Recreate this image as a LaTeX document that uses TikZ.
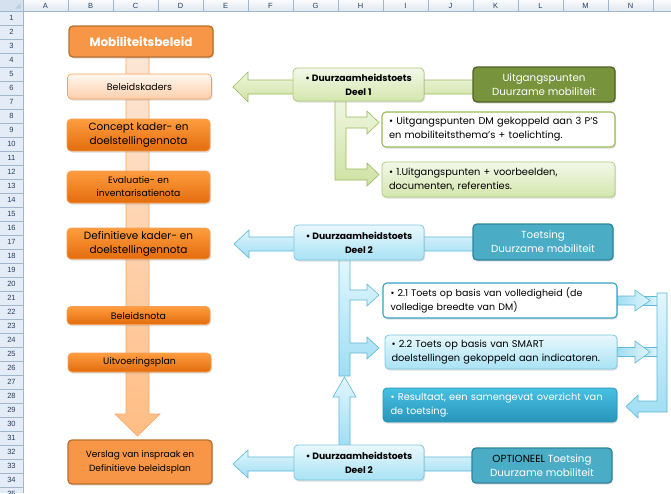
\documentclass[tikz,border=0pt]{standalone}
\usepackage{fontspec}
\setmainfont{Poppins}
\newfontfamily\hdrfont{Liberation Sans}
\usetikzlibrary{shadows}
\definecolor{hdrline}{HTML}{9EB6CE}
\definecolor{hdrtop}{HTML}{F9FBFD}
\definecolor{hdrbot}{HTML}{E1E8F1}
\definecolor{rowfill}{HTML}{E4ECF7}
\definecolor{hdrtext}{HTML}{27405E}
\definecolor{orDark}{HTML}{F79646}
\definecolor{orDarkLine}{HTML}{B7712F}
\definecolor{orTop}{HTML}{FF9D40}
\definecolor{orBot}{HTML}{E26C0C}
\definecolor{orLine}{HTML}{F7A055}
\definecolor{paleTop}{HTML}{FFF7F0}
\definecolor{paleBot}{HTML}{FCCFAB}
\definecolor{paleLine}{HTML}{F5A05A}
\definecolor{peachTop}{HTML}{FDE6D5}
\definecolor{peachBot}{HTML}{FFBD84}
\definecolor{peachLine}{HTML}{F8A862}
\definecolor{olive}{HTML}{77933C}
\definecolor{oliveLine}{HTML}{4F6228}
\definecolor{lgTop}{HTML}{F3F8E9}
\definecolor{lgBot}{HTML}{D3E6AC}
\definecolor{lgLine}{HTML}{B0CB7E}
\definecolor{gArrTop}{HTML}{EFF6E0}
\definecolor{gArrBot}{HTML}{CDE2A2}
\definecolor{gArrLine}{HTML}{9BBB59}
\definecolor{teal}{HTML}{4BACC6}
\definecolor{tealLine}{HTML}{31859C}
\definecolor{lbTop}{HTML}{E9F8FD}
\definecolor{lbBot}{HTML}{A8E2F4}
\definecolor{lbLine}{HTML}{7CC9E2}
\definecolor{bArrTop}{HTML}{E2F6FD}
\definecolor{bArrBot}{HTML}{9FDDF2}
\definecolor{bArrLine}{HTML}{5DB9D8}
\definecolor{resTop}{HTML}{47C0E1}
\definecolor{resBot}{HTML}{2895BB}
\definecolor{wbLine}{HTML}{35A2C4}
\tikzset{
  hdr/.style={font=\hdrfont\fontsize{7.5}{8}\selectfont, text=hdrtext, inner sep=0},
  shad/.style={drop shadow={opacity=0.25,shadow xshift=1pt,shadow yshift=-1.5pt}},
  box/.style={rounded corners=4pt, inner sep=0, align=center, text=black},
  darkor/.style={box, shad, fill=orDark, draw=orDarkLine, line width=1.3pt},
  vivid/.style={box, shad, top color=orTop, bottom color=orBot, draw=orLine, line width=0.6pt},
  pale/.style={box, shad, top color=paleTop, bottom color=paleBot, draw=paleLine, line width=0.6pt},
  olivebox/.style={box, shad, fill=olive, draw=oliveLine, line width=1.3pt, text=white},
  lgbox/.style={box, shad, top color=lgTop, bottom color=lgBot, draw=lgLine, line width=0.8pt},
  wgbox/.style={box, shad, fill=white, draw=gArrLine, line width=1.1pt},
  tealbox/.style={box, shad, fill=teal, draw=tealLine, line width=1.3pt, text=white},
  lbbox/.style={box, shad, top color=lbTop, bottom color=lbBot, draw=lbLine, line width=0.8pt},
  wbbox/.style={box, shad, fill=white, draw=wbLine, line width=1.1pt},
  resbox/.style={box, shad, top color=resTop, bottom color=resBot, draw=resBot, line width=0.8pt, text=white},
  garrow/.style={top color=gArrTop, bottom color=gArrBot, draw=gArrLine, line width=0.6pt},
  barrow/.style={top color=bArrTop, bottom color=bArrBot, draw=bArrLine, line width=0.6pt},
  hbarrow/.style={left color=bArrBot, right color=bArrTop, draw=bArrLine, line width=0.6pt},
  parrow/.style={top color=peachTop, bottom color=peachBot, draw=peachLine, line width=0.6pt},
  big/.style={font=\fontsize{10.5}{14}\selectfont},
  mid/.style={font=\fontsize{10.3}{14}\selectfont},
  small/.style={font=\fontsize{9.8}{14}\selectfont},
  deel/.style={font=\bfseries\fontsize{9.2}{14}\selectfont},
  side/.style={align=left, text width=219pt},
}
\begin{document}
\begin{tikzpicture}[x=1pt,y=-1pt]
\useasboundingbox (0,0) rectangle (671,493);
\fill[white] (0,0) rectangle (671,493);
% ---------- spreadsheet headers ----------
\shade[top color=hdrtop, bottom color=hdrbot] (0,0) rectangle (671,11);
\fill[rowfill] (0,11) rectangle (23,493);
\foreach \i in {0,...,14} \draw[hdrline, line width=0.6pt] (23+45*\i,0) -- (23+45*\i,11);
\foreach \r in {1,...,35} \draw[hdrline, line width=0.6pt] (0,11+14*\r) -- (23,11+14*\r);
\draw[hdrline, line width=0.8pt] (0,11) -- (671,11);
\draw[hdrline, line width=0.8pt] (23,0) -- (23,493);
\fill[rowfill!80!hdrline] (0,0) rectangle (23,11);
\fill[hdrline!70!white] (20.5,3) -- (20.5,8.5) -- (15,8.5) -- cycle;
\foreach \c [count=\i from 0] in {A,B,C,D,E,F,G,H,I,J,K,L,M,N}
  \node[hdr] (col\c) at (45.5+45*\i,5.8) {\c};
\foreach \r in {1,...,35}
  \node[hdr] (row\r) at (11.5,4.3+14*\r) {\r};
% ---------- block arrows (behind boxes) ----------
\path[parrow] (126,57) -- (149,57) -- (149,414) -- (160,414) -- (137.5,436) -- (115,414) -- (126,414) -- cycle;
% green
\path[garrow] (474,80) -- (248,80) -- (248,72) -- (233,87) -- (248,102) -- (248,94) -- (474,94) -- cycle;
\path[garrow] (335,100) -- (346,100) -- (346,117) -- (367,117) -- (367,111) -- (379,122.5) -- (367,134) -- (367,128) -- (346,128)
  -- (346,169) -- (367,169) -- (367,163) -- (379,174.5) -- (367,186) -- (367,180) -- (335,180) -- cycle;
% blue top
\path[barrow] (474,237) -- (249,237) -- (249,230) -- (234,244) -- (249,258) -- (249,251) -- (474,251) -- cycle;
\path[barrow] (339,259) -- (350,259) -- (350,290) -- (367,290) -- (367,284) -- (379,295) -- (367,306) -- (367,300) -- (350,300)
  -- (350,343) -- (367,343) -- (367,337) -- (379,348) -- (367,359) -- (367,353) -- (350,353) -- (350,376) -- (339,376) -- cycle;
% right side connector
\path[hbarrow] (640,296) rectangle (657,305);
\path[hbarrow] (640,347.5) rectangle (657,356.5);
\path[hbarrow] (617,296) -- (635,296) -- (635,290) -- (650,300.5) -- (635,311) -- (635,305) -- (617,305) -- cycle;
\path[hbarrow] (617,347.5) -- (635,347.5) -- (635,341) -- (650,352) -- (635,363) -- (635,356.5) -- (617,356.5) -- cycle;
\path[barrow] (657,293) -- (667,293) -- (667,412) -- (638,412) -- (638,418) -- (626,406.5) -- (638,395) -- (638,401) -- (657,401) -- cycle;
% bottom
\path[barrow] (339,446) -- (339,397) -- (333,397) -- (344.5,377) -- (356,397) -- (350,397) -- (350,446) -- cycle;
\path[barrow] (473,457) -- (248,457) -- (248,450) -- (233,464) -- (248,478) -- (248,471) -- (473,471) -- cycle;
% ---------- left column ----------
\node[darkor, minimum width=144, minimum height=31, text=white, font=\bfseries\fontsize{12}{14}\selectfont] (mob) at (141,41.5) {Mobiliteitsbeleid};
\node[pale, minimum width=144, minimum height=25, font=\fontsize{9.4}{12}\selectfont] (kaders) at (139.5,86.5) {Beleidskaders};
\node[vivid, minimum width=143, minimum height=32, big] (concept) at (138.5,135) {Concept kader- en\\doelstellingennota};
\node[vivid, minimum width=143, minimum height=32, font=\fontsize{9.2}{13}\selectfont] (eval) at (138.5,187) {Evaluatie- en\\inventarisatienota};
\node[vivid, minimum width=143, minimum height=31, big] (defin) at (138.5,243.5) {Definitieve kader- en\\doelstellingennota};
\node[vivid, minimum width=143, minimum height=18, font=\fontsize{9.4}{11}\selectfont] (bnota) at (138.5,315.5) {Beleidsnota};
\node[vivid, minimum width=143, minimum height=19, font=\fontsize{9.3}{11}\selectfont] (uitv) at (139.5,362.5) {Uitvoeringsplan};
\node[darkor, minimum width=144, minimum height=44, font=\fontsize{9}{14}\selectfont] (verslag) at (140,462) {Verslag van inspraak en\\Definitieve beleidsplan};
% ---------- green block ----------
\node[lgbox, minimum width=131, minimum height=33, deel] (deel1) at (358.5,84.5) {• Duurzaamheidstoets\\Deel 1};
\node[olivebox, minimum width=142, minimum height=35, mid] (uitg) at (544,84.5) {Uitgangspunten\\Duurzame mobiliteit};
\node[wgbox, minimum width=233, minimum height=35, small, side] (gdm) at (498.5,129.5) {• Uitgangspunten DM gekoppeld aan 3 P'S\\en mobiliteitsthema's + toelichting.};
\node[lgbox, minimum width=233, minimum height=35, small, side] (gvb) at (498.5,179.5) {• 1.Uitgangspunten + voorbeelden,\\documenten, referenties.};
% ---------- blue block ----------
\node[lbbox, minimum width=130, minimum height=35, deel] (deel2a) at (359,242.5) {• Duurzaamheidstoets\\Deel 2};
\node[tealbox, minimum width=140, minimum height=36, mid] (toets) at (543,242) {Toetsing\\Duurzame mobiliteit};
\node[wbbox, minimum width=234, minimum height=35, font=\fontsize{9.5}{14}\selectfont, side] (t21) at (500,300.5) {• 2.1 Toets op basis van volledigheid (de\\volledige breedte van DM)};
\node[lbbox, minimum width=232, minimum height=34, font=\fontsize{9.8}{14}\selectfont, side] (t22) at (501,352) {• 2.2 Toets op basis van SMART\\doelstellingen gekoppeld aan indicatoren.};
\node[resbox, minimum width=234, minimum height=34, small, side] (res) at (500,405) {• Resultaat, een samengevat overzicht van\\de toetsing.};
\node[lbbox, minimum width=130, minimum height=35, deel] (deel2b) at (359,462.5) {• Duurzaamheidstoets\\Deel 2};
\node[tealbox, minimum width=140, minimum height=35, mid] (opt) at (542,465.5) {{\color{black}OPTIONEEL} Toetsing\\Duurzame mobiliteit};
\end{tikzpicture}
\end{document}
